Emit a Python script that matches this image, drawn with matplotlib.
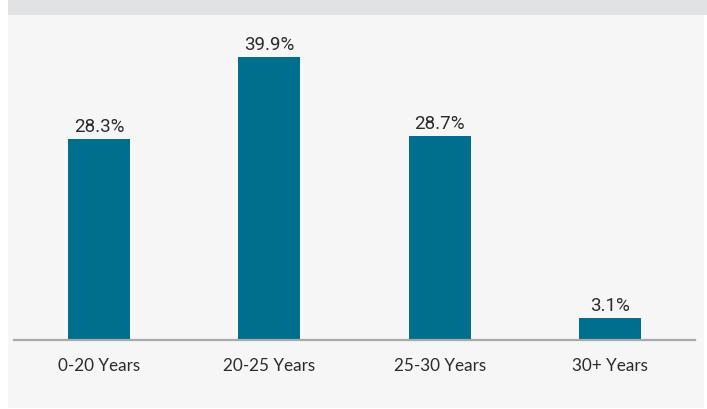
import matplotlib
matplotlib.use("Agg")
import matplotlib.pyplot as plt
from matplotlib.patches import Rectangle

categories = ["0-20 Years", "20-25 Years", "25-30 Years", "30+ Years"]
values = [28.3, 39.9, 28.7, 3.1]
labels = ["28.3%", "39.9%", "28.7%", "3.1%"]

W, H = 707, 410
fig = plt.figure(figsize=(W / 100, H / 100), dpi=100)
fig.patch.set_facecolor("white")

# panel background and top band
fig.patches.append(Rectangle((8 / W, 1 / H), 696 / W, 393 / H, transform=fig.transFigure,
                             facecolor="#f6f6f6", edgecolor="none", zorder=-10))
fig.patches.append(Rectangle((8 / W, (H - 16) / H), 699 / W, 16 / H, transform=fig.transFigure,
                             facecolor="#e1e2e4", edgecolor="none", zorder=-10))

ax = fig.add_axes([14 / W, 69 / H, 681 / W, 325 / H])
ax.patch.set_alpha(0)
x = list(range(len(categories)))
bars = ax.bar(x, values, width=0.364, color="#006f8e", zorder=2)
ax.set_xlim(-0.5, 3.5)
ax.set_ylim(0, 45.8)

for b, lab in zip(bars, labels):
    ax.annotate(lab, (b.get_x() + b.get_width() / 2, b.get_height()),
                xytext=(0, 3), textcoords="offset points", ha="center", va="bottom",
                fontsize=13.5, fontweight="normal", color="#2b2b2b",
                family=["Roboto", "DejaVu Sans"])

ax.set_xticks(x)
ax.set_xticklabels(categories, fontsize=12.3, color="#2b2b2b", family=["Lato", "DejaVu Sans"])
ax.tick_params(axis="x", length=0, pad=12.5)
ax.set_yticks([])
for s in ["top", "left", "right"]:
    ax.spines[s].set_visible(False)
ax.spines["bottom"].set_color("#a7a9ac")
ax.spines["bottom"].set_linewidth(1.6)

fig.savefig("out.png", dpi=100, facecolor=fig.get_facecolor())
